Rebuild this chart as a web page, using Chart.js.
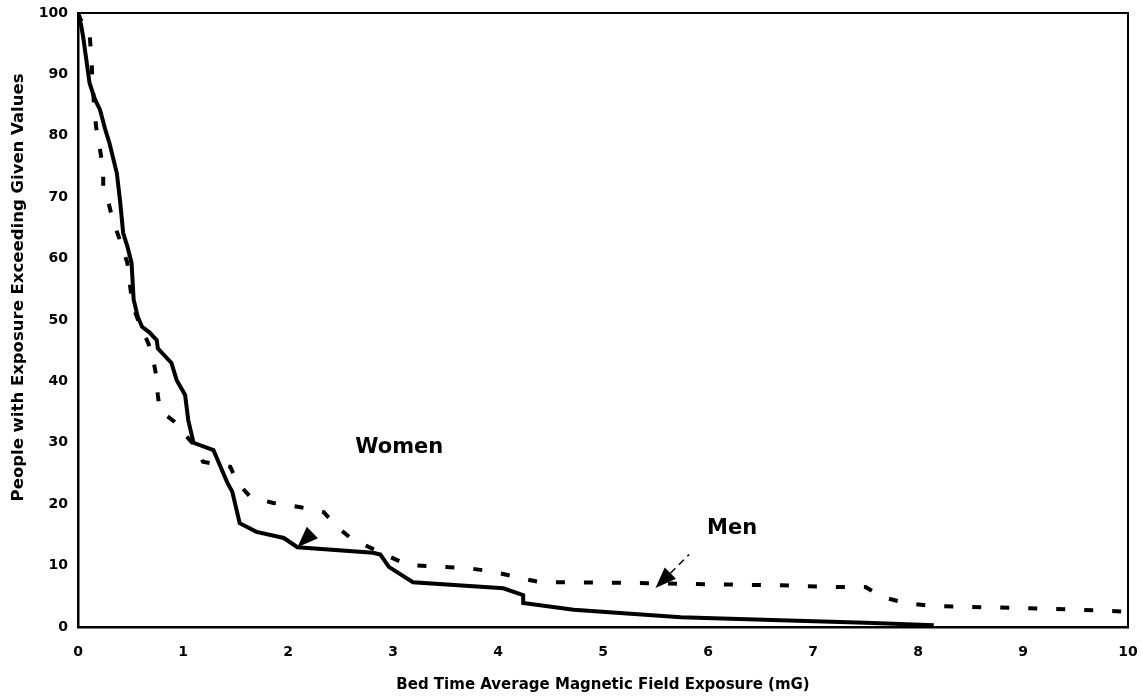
<!DOCTYPE html>
<html>
<head>
<meta charset="utf-8">
<script src="https://cdn.jsdelivr.net/npm/chart.js@4"></script>
<style>
  html, body { margin: 0; padding: 0; background: #fff; }
  #wrap { width: 1143px; height: 698px; }
</style>
</head>
<body>
<div id="wrap"><canvas id="exposureChart"></canvas></div>
<script>
// Cumulative exposure curves (% of people above a given bed time field level)
const womenX = [0, 0.03, 0.05, 0.08, 0.11, 0.16, 0.21, 0.26, 0.30, 0.37, 0.40, 0.43, 0.47, 0.51, 0.53,
                0.57, 0.61, 0.68, 0.75, 0.76, 0.89, 0.94, 1.02, 1.05, 1.10, 1.29, 1.33, 1.42, 1.47, 1.54,
                1.70, 1.96, 2.09, 2.81, 2.88, 2.96, 3.19, 4.05, 4.24, 4.24, 4.72, 5.74, 6.69, 7.50, 8.15];
const womenY = [100, 98, 96, 92.3, 88.6, 86, 84.2, 81, 78.8, 73.9, 69.5, 64.2, 62, 59.3, 53.3,
                50.5, 48.9, 48, 46.7, 45.4, 43.0, 40.2, 37.8, 33.7, 30.0, 28.8, 27.2, 23.6, 22.0, 16.9,
                15.5, 14.5, 13.0, 12.1, 11.8, 9.8, 7.3, 6.3, 5.2, 3.9, 2.8, 1.6, 1.1, 0.7, 0.3];

const menX = [0, 0.06, 0.11, 0.13, 0.14, 0.16, 0.18, 0.21, 0.24, 0.24, 0.29, 0.33, 0.40, 0.47, 0.50,
              0.52, 0.59, 0.67, 0.72, 0.75, 0.76, 0.78, 0.92, 1.02, 1.13, 1.19, 1.45, 1.52, 1.64, 1.86,
              2.12, 2.34, 2.47, 2.61, 2.90, 3.14, 3.45, 3.71, 3.96, 4.18, 4.40, 5.26, 5.83, 6.66, 7.24,
              7.50, 7.66, 7.88, 8.14, 8.42, 8.95, 9.55, 10];
const menY = [100, 97.5, 96.7, 92, 88, 83.4, 80.4, 77.7, 74.4, 71.7, 69.2, 66.3, 63, 59.3, 55,
              52.4, 49.2, 46.2, 43.2, 40.5, 37.8, 35.3, 33.4, 31.3, 29.2, 26.9, 26.1, 23.5, 21.2, 20.2,
              19.5, 18.7, 16.3, 14.3, 12, 10.1, 9.8, 9.6, 9.0, 8.1, 7.3, 7.2, 7.0, 6.8, 6.5,
              6.5, 4.9, 3.9, 3.4, 3.3, 3.1, 2.8, 2.5];

const xTicks = [0, 1, 2, 3, 4, 5, 6, 7, 8, 9, 10];
const yTicks = [0, 10, 20, 30, 40, 50, 60, 70, 80, 90, 100];

const yTitle = 'People with Exposure Exceeding Given Values';

// curve labels and their pointer arrows (data coordinates)
const curveLabels = [
  { text: 'Women', x: 3.06, y: 29.3 },
  { text: 'Men',   x: 6.23, y: 16.1 }
];
const pointers = [
  { tipX: 2.09, tipY: 13.0, tailX: 3.07, tailY: 29.5, shaft: 0 },
  { tipX: 5.50, tipY: 6.35, tailX: 5.82, tailY: 11.8, shaft: 1 }
];

const toPoints = (xs, ys) => xs.map((x, i) => ({ x: x, y: ys[i] }));

const FONT = 'DejaVu Sans';

// frame on top/right, y title, labels with arrowheads
const annotate = {
  id: 'annotate',
  afterDatasetsDraw(chart) {
    const { ctx, chartArea, scales } = chart;
    ctx.save();
    ctx.strokeStyle = '#000';
    ctx.lineWidth = 2;
    ctx.beginPath();
    ctx.moveTo(chartArea.left, chartArea.top);
    ctx.lineTo(chartArea.right, chartArea.top);
    ctx.lineTo(chartArea.right, chartArea.bottom);
    ctx.stroke();

    ctx.fillStyle = '#000';
    ctx.textAlign = 'center';
    ctx.textBaseline = 'middle';

    // rotated y title, a bit stretched along its length
    ctx.save();
    ctx.translate(19.5, scales.y.getPixelForValue(55.3));
    ctx.rotate(-Math.PI / 2);
    ctx.scale(1.1, 1);
    ctx.font = 'bold 15px "' + FONT + '"';
    ctx.fillText(yTitle, 0, 0);
    ctx.restore();

    ctx.font = 'bold 21px "' + FONT + '"';
    curveLabels.forEach(l => {
      ctx.fillText(l.text, scales.x.getPixelForValue(l.x), scales.y.getPixelForValue(l.y));
    });

    pointers.forEach(p => {
      const tx = scales.x.getPixelForValue(p.tipX), ty = scales.y.getPixelForValue(p.tipY);
      const ex = scales.x.getPixelForValue(p.tailX), ey = scales.y.getPixelForValue(p.tailY);
      const len = Math.hypot(ex - tx, ey - ty);
      const ux = (ex - tx) / len, uy = (ey - ty) / len;
      const headLen = 21, half = 8;
      const bx = tx + ux * headLen, by = ty + uy * headLen;
      ctx.beginPath();
      ctx.moveTo(tx, ty);
      ctx.lineTo(bx - uy * half, by + ux * half);
      ctx.lineTo(bx + uy * half, by - ux * half);
      ctx.closePath();
      ctx.fill();
      if (p.shaft) {
        ctx.setLineDash([7, 5]);
        ctx.lineWidth = 1.5;
        ctx.beginPath();
        ctx.moveTo(bx, by);
        ctx.lineTo(ex, ey);
        ctx.stroke();
        ctx.setLineDash([]);
      }
    });
    ctx.restore();
  }
};

// keep the plot box fixed: no extra room for overhanging tick labels
const noOverhang = s => {
  s.paddingLeft = 0; s.paddingRight = 0; s.paddingTop = 0; s.paddingBottom = 0;
};

new Chart(document.getElementById('exposureChart'), {
  type: 'scatter',
  data: {
    datasets: [
      {
        label: 'Women',
        data: toPoints(womenX, womenY),
        showLine: true,
        borderColor: '#000',
        borderWidth: 4,
        pointRadius: 0,
        tension: 0
      },
      {
        label: 'Men',
        data: toPoints(menX, menY),
        showLine: true,
        borderColor: '#000',
        borderWidth: 4,
        borderDash: [9, 19],
        pointRadius: 0,
        tension: 0
      }
    ]
  },
  options: {
    responsive: true,
    maintainAspectRatio: false,
    animation: false,
    layout: { padding: { top: 13, right: 15, left: 0, bottom: 0 } },
    plugins: {
      legend: { display: false },
      tooltip: { enabled: false }
    },
    scales: {
      x: {
        type: 'linear',
        min: 0,
        max: 10,
        afterFit: s => { s.height = 71; noOverhang(s); },
        afterBuildTicks: s => { s.ticks = xTicks.map(v => ({ value: v })); },
        grid: { display: false, drawTicks: false },
        border: { display: true, color: '#000', width: 2.5 },
        ticks: { padding: 17, color: '#000', font: { family: FONT, size: 14, weight: 'bold' }, maxRotation: 0 },
        title: {
          display: true,
          text: 'Bed Time Average Magnetic Field Exposure (mG)',
          color: '#000',
          font: { family: FONT, size: 15, weight: 'bold' },
          padding: { top: 0, bottom: 4 }
        }
      },
      y: {
        type: 'linear',
        min: 0,
        max: 100,
        afterFit: s => { s.width = 78; noOverhang(s); },
        afterBuildTicks: s => { s.ticks = yTicks.map(v => ({ value: v })); },
        grid: { display: false, drawTicks: false },
        border: { display: true, color: '#000', width: 2.5 },
        ticks: { padding: 10, color: '#000', font: { family: FONT, size: 14, weight: 'bold' } }
      }
    }
  },
  plugins: [annotate]
});
</script>
</body>
</html>
